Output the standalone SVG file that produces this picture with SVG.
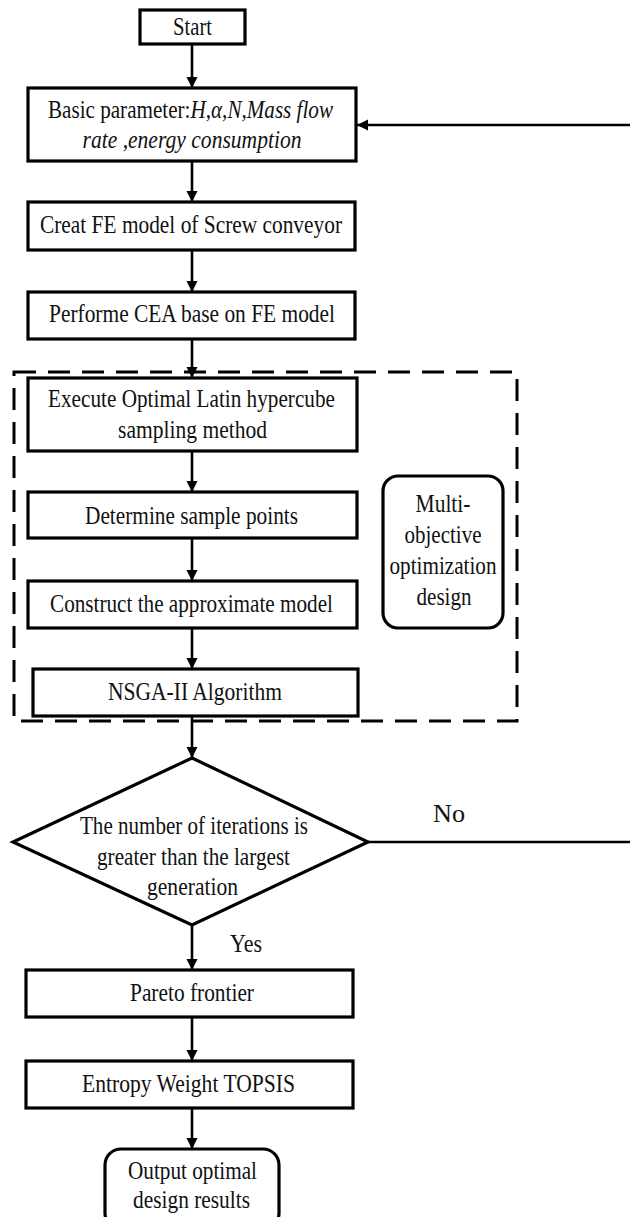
<svg xmlns="http://www.w3.org/2000/svg" width="630" height="1217" viewBox="0 0 630 1217" font-family="'Liberation Serif', 'DejaVu Serif', serif">
  <style>
    .box { fill: #fff; stroke: #000; stroke-width: 3.2; }
    .lbl { font-family: 'Liberation Serif', 'DejaVu Serif', serif; font-size: 25px; fill: #111; text-anchor: middle; }
    .it { font-style: italic; }
    .wire { fill: none; stroke: #000; stroke-width: 2.6; }
    .frame { fill: none; stroke: #000; stroke-width: 3; stroke-dasharray: 22 12; }
  </style>
  <defs>
    <marker id="arrow" viewBox="0 0 10 10" refX="10" refY="5" markerWidth="11" markerHeight="12" markerUnits="userSpaceOnUse" orient="auto">
      <path d="M0,0 L10,5 L0,10 z" fill="#000"/>
    </marker>
  </defs>
  <rect width="630" height="1217" fill="#fff"/>

  <!-- dashed frame around the optimization stage -->
  <g id="optimization-frame">
    <rect class="frame" x="14" y="372" width="503" height="349"/>
  </g>

  <g id="connectors">
    <line class="wire" x1="192" y1="44" x2="192" y2="88" marker-end="url(#arrow)"/>
    <line class="wire" x1="192" y1="161" x2="192" y2="202" marker-end="url(#arrow)"/>
    <line class="wire" x1="192" y1="250" x2="192" y2="292" marker-end="url(#arrow)"/>
    <line class="wire" x1="192" y1="339" x2="192" y2="378" marker-end="url(#arrow)"/>
    <line class="wire" x1="192" y1="451" x2="192" y2="492" marker-end="url(#arrow)"/>
    <line class="wire" x1="192" y1="538" x2="192" y2="581" marker-end="url(#arrow)"/>
    <line class="wire" x1="192" y1="628" x2="192" y2="669" marker-end="url(#arrow)"/>
    <line class="wire" x1="192" y1="716" x2="192" y2="758" marker-end="url(#arrow)"/>
    <line class="wire" x1="192" y1="925" x2="192" y2="970" marker-end="url(#arrow)"/>
    <line class="wire" x1="192" y1="1017" x2="192" y2="1061" marker-end="url(#arrow)"/>
    <line class="wire" x1="192" y1="1108" x2="192" y2="1149" marker-end="url(#arrow)"/>
    <!-- "No" branch loops back to the parameter box -->
    <path class="wire" d="M368,842 H645 V125 H357" marker-end="url(#arrow)"/>
    <text class="lbl" x="449" y="822" textLength="32" lengthAdjust="spacingAndGlyphs">No</text>
    <text class="lbl" x="246" y="952" textLength="32" lengthAdjust="spacingAndGlyphs">Yes</text>
  </g>

  <g id="start">
    <rect class="box" x="140" y="10" width="105" height="34"/>
    <text class="lbl" x="192.5" y="35" textLength="39" lengthAdjust="spacingAndGlyphs">Start</text>
  </g>

  <g id="basic-parameter">
    <rect class="box" x="28" y="88" width="328" height="73"/>
    <!-- first line set at its natural width, stretched vertically to the common glyph height -->
    <g transform="matrix(1,0,0,1.22,0,-25.96)">
      <text class="lbl" x="190.5" y="118" style="font-size:20px" textLength="285" lengthAdjust="spacingAndGlyphs">Basic parameter:<tspan class="it">H,α,N,Mass flow</tspan></text>
    </g>
    <text class="lbl it" x="192" y="148" textLength="219" lengthAdjust="spacingAndGlyphs">rate ,energy consumption</text>
  </g>

  <g id="fe-model">
    <rect class="box" x="28" y="202" width="327" height="48"/>
    <text class="lbl" x="191" y="233" textLength="302" lengthAdjust="spacingAndGlyphs">Creat FE model of Screw conveyor</text>
  </g>

  <g id="cea">
    <rect class="box" x="28" y="292" width="327" height="47"/>
    <text class="lbl" x="192" y="322" textLength="286" lengthAdjust="spacingAndGlyphs">Performe CEA base on FE model</text>
  </g>

  <g id="latin-hypercube">
    <rect class="box" x="28" y="378" width="329" height="73"/>
    <text class="lbl" x="191.5" y="407" textLength="287" lengthAdjust="spacingAndGlyphs">Execute Optimal Latin hypercube</text>
    <text class="lbl" x="192.5" y="438" textLength="149" lengthAdjust="spacingAndGlyphs">sampling method</text>
  </g>

  <g id="sample-points">
    <rect class="box" x="28" y="492" width="329" height="46"/>
    <text class="lbl" x="191.5" y="524" textLength="213" lengthAdjust="spacingAndGlyphs">Determine sample points</text>
  </g>

  <g id="approximate-model">
    <rect class="box" x="28" y="581" width="329" height="47"/>
    <text class="lbl" x="191.5" y="612" textLength="283" lengthAdjust="spacingAndGlyphs">Construct the approximate model</text>
  </g>

  <g id="nsga2">
    <rect class="box" x="33" y="669" width="325" height="47"/>
    <text class="lbl" x="195" y="700" textLength="174" lengthAdjust="spacingAndGlyphs">NSGA-II Algorithm</text>
  </g>

  <g id="multi-objective">
    <rect class="box" x="383" y="476" width="120" height="152" rx="15" ry="15"/>
    <text class="lbl" x="443" y="512" textLength="55" lengthAdjust="spacingAndGlyphs">Multi-</text>
    <text class="lbl" x="443" y="543" textLength="77" lengthAdjust="spacingAndGlyphs">objective</text>
    <text class="lbl" x="443" y="574" textLength="107" lengthAdjust="spacingAndGlyphs">optimization</text>
    <text class="lbl" x="444" y="605" textLength="55" lengthAdjust="spacingAndGlyphs">design</text>
  </g>

  <g id="iteration-check">
    <polygon class="box" points="192,758 368,842 192,925 13,842"/>
    <text class="lbl" x="194" y="834" textLength="228" lengthAdjust="spacingAndGlyphs">The number of iterations is</text>
    <text class="lbl" x="193.5" y="865" textLength="193" lengthAdjust="spacingAndGlyphs">greater than the largest</text>
    <text class="lbl" x="192.5" y="895" textLength="91" lengthAdjust="spacingAndGlyphs">generation</text>
  </g>

  <g id="pareto">
    <rect class="box" x="26" y="970" width="327" height="47"/>
    <text class="lbl" x="192" y="1001" textLength="124" lengthAdjust="spacingAndGlyphs">Pareto frontier</text>
  </g>

  <g id="topsis">
    <rect class="box" x="26" y="1061" width="327" height="47"/>
    <text class="lbl" x="188.5" y="1092" textLength="213" lengthAdjust="spacingAndGlyphs">Entropy Weight TOPSIS</text>
  </g>

  <g id="output">
    <rect class="box" x="105" y="1149" width="174" height="80" rx="16" ry="16"/>
    <text class="lbl" x="192.5" y="1179" textLength="129" lengthAdjust="spacingAndGlyphs">Output optimal</text>
    <text class="lbl" x="191.5" y="1208" textLength="117" lengthAdjust="spacingAndGlyphs">design results</text>
  </g>
</svg>
